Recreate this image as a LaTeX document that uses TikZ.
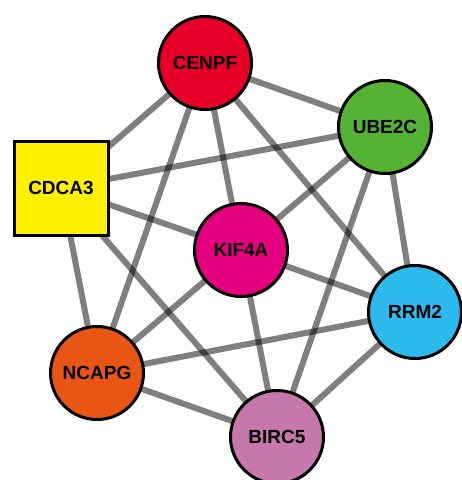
\documentclass[tikz,border=0pt]{standalone}
\usepackage{fontspec}
\setmainfont{Liberation Sans}
\usetikzlibrary{backgrounds}
\begin{document}
\begin{tikzpicture}[x=1pt,y=-1pt,
  gene/.style={circle,draw=black,line width=3pt,minimum size=93pt,inner sep=0pt,font=\fontsize{19}{21}\selectfont\bfseries},
  genesq/.style={rectangle,draw=black,line width=3pt,minimum size=94pt,inner sep=0pt,font=\fontsize{19}{21}\selectfont\bfseries},
  link/.style={line width=6pt,draw=black,opacity=0.5}]
\useasboundingbox (0,0) rectangle (462,480);
\node[gene,fill={rgb,255:red,230;green,0;blue,40}] (cenpf) at (205,63) {CENPF};
\node[gene,fill={rgb,255:red,84;green,178;blue,52}] (ube2c) at (385,127) {UBE2C};
\node[genesq,fill={rgb,255:red,255;green,240;blue,0}] (cdca3) at (61,188) {CDCA3};
\node[gene,fill={rgb,255:red,228;green,0;blue,127}] (kif4a) at (241,250) {KIF4A};
\node[gene,fill={rgb,255:red,44;green,186;blue,236}] (rrm2) at (415,312) {RRM2};
\node[gene,fill={rgb,255:red,233;green,85;blue,20}] (ncapg) at (97,373) {NCAPG};
\node[gene,fill={rgb,255:red,198;green,119;blue,172}] (birc5) at (277,437) {BIRC5};
\begin{scope}[on background layer]
\draw[link] (cenpf.center) -- (cdca3.center);
\draw[link] (cenpf.center) -- (ube2c.center);
\draw[link] (cenpf.center) -- (kif4a.center);
\draw[link] (cenpf.center) -- (rrm2.center);
\draw[link] (cenpf.center) -- (ncapg.center);
\draw[link] (ube2c.center) -- (cdca3.center);
\draw[link] (ube2c.center) -- (kif4a.center);
\draw[link] (ube2c.center) -- (rrm2.center);
\draw[link] (ube2c.center) -- (birc5.center);
\draw[link] (cdca3.center) -- (kif4a.center);
\draw[link] (cdca3.center) -- (ncapg.center);
\draw[link] (cdca3.center) -- (birc5.center);
\draw[link] (kif4a.center) -- (ncapg.center);
\draw[link] (kif4a.center) -- (rrm2.center);
\draw[link] (kif4a.center) -- (birc5.center);
\draw[link] (ncapg.center) -- (rrm2.center);
\draw[link] (ncapg.center) -- (birc5.center);
\draw[link] (rrm2.center) -- (birc5.center);
\end{scope}
\end{tikzpicture}
\end{document}
